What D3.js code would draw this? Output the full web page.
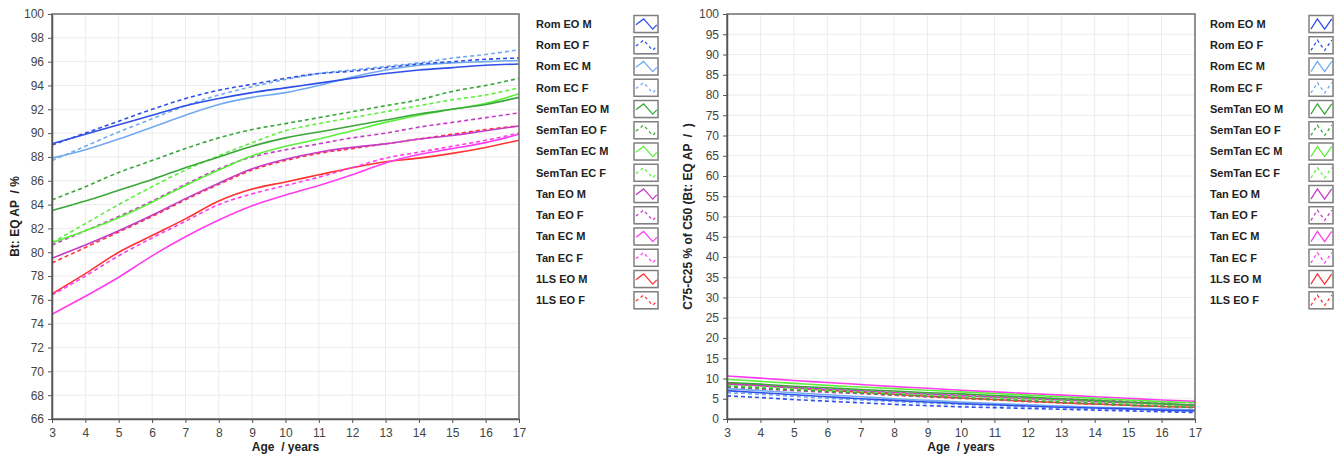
<!DOCTYPE html>
<html><head><meta charset="utf-8">
<script src="https://cdn.jsdelivr.net/npm/d3@7"></script>
<style>
body{margin:0;background:#fff}
svg{display:block}
text{font-family:"Liberation Sans",Arial,sans-serif}
</style>
</head><body>
<svg id="c" width="1343" height="456"></svg>
<script>
// ---------- DATA ----------
const ages = [3,4,5,6,7,8,9,10,11,12,13,14,15,16,17];
const seriesNames = ["Rom EO M","Rom EO F","Rom EC M","Rom EC F","SemTan EO M","SemTan EO F","SemTan EC M","SemTan EC F","Tan EO M","Tan EO F","Tan EC M","Tan EC F","1LS EO M","1LS EO F"];
const leftYTicks = [66,68,70,72,74,76,78,80,82,84,86,88,90,92,94,96,98,100];
const rightYTicks = [0,5,10,15,20,25,30,35,40,45,50,55,60,65,70,75,80,85,90,95,100];
const xTicks = [3,4,5,6,7,8,9,10,11,12,13,14,15,16,17];

// Left chart: Bt: EQ AP / %
const btRomEOM    = [89.1,89.9,90.7,91.5,92.3,92.9,93.4,93.8,94.2,94.6,95.0,95.3,95.5,95.7,95.8];
const btRomEOF    = [89.0,90.0,91.0,92.0,92.9,93.6,94.1,94.6,95.0,95.2,95.5,95.8,96.0,96.2,96.3];
const btRomECM    = [87.9,88.6,89.5,90.5,91.5,92.4,93.0,93.4,94.0,94.7,95.3,95.7,95.9,96.0,96.1];
const btRomECF    = [87.7,88.9,90.1,91.2,92.3,93.2,93.9,94.5,95.0,95.3,95.6,95.9,96.3,96.6,97.0];
const btSemTanEOM = [83.5,84.3,85.2,86.1,87.1,88.0,88.9,89.6,90.1,90.6,91.1,91.6,92.0,92.4,93.0];
const btSemTanEOF = [84.4,85.5,86.7,87.7,88.7,89.6,90.3,90.8,91.3,91.8,92.3,92.8,93.5,94.0,94.6];
const btSemTanECM = [80.8,81.8,82.9,84.2,85.6,86.9,88.1,88.9,89.5,90.2,90.9,91.5,92.0,92.5,93.3];
const btSemTanECF = [80.8,82.4,84.0,85.5,86.9,88.1,89.2,90.2,90.8,91.3,91.8,92.3,92.8,93.2,93.8];
const btTanEOM    = [79.5,80.6,81.8,83.1,84.5,85.8,87.0,87.8,88.4,88.8,89.1,89.5,89.8,90.2,90.6];
const btTanEOF    = [80.6,81.8,83.0,84.3,85.7,87.0,88.0,88.6,89.1,89.6,90.0,90.5,90.9,91.3,91.7];
const btTanECM    = [74.8,76.3,77.9,79.7,81.3,82.7,83.9,84.8,85.6,86.5,87.5,88.2,88.7,89.2,89.9];
const btTanECF    = [76.4,78.0,79.7,81.2,82.6,84.0,84.9,85.6,86.3,87.1,87.9,88.4,88.9,89.4,90.0];
const btLS1EOM    = [76.5,78.2,80.0,81.4,82.8,84.3,85.3,85.9,86.5,87.1,87.6,87.9,88.3,88.8,89.4];
const btLS1EOF    = [79.1,80.4,81.7,83.0,84.4,85.7,86.9,87.7,88.3,88.7,89.1,89.5,89.9,90.3,90.6];

// Right chart: C75-C25 % of C50
const spRomEOM    = [7.0,6.5,6.0,5.5,5.0,4.6,4.2,3.8,3.5,3.2,2.9,2.7,2.5,2.2,2.0];
const spRomEOF    = [5.7,5.3,4.8,4.4,4.0,3.6,3.3,3.0,2.8,2.6,2.4,2.2,2.0,1.8,1.6];
const spRomECM    = [7.5,7.0,6.5,6.0,5.5,5.0,4.6,4.2,3.8,3.5,3.2,2.9,2.7,2.5,2.3];
const spRomECF    = [6.5,6.1,5.6,5.1,4.7,4.3,3.9,3.6,3.3,3.0,2.8,2.6,2.4,2.2,2.0];
const spSemTanEOM = [9.0,8.6,8.1,7.7,7.3,6.9,6.5,6.2,5.8,5.4,5.0,4.6,4.2,3.8,3.4];
const spSemTanEOF = [8.0,7.6,7.2,6.8,6.4,6.0,5.6,5.2,4.8,4.5,4.1,3.8,3.4,3.1,2.8];
const spSemTanECM = [9.8,9.3,8.8,8.3,7.9,7.5,7.1,6.7,6.3,5.9,5.5,5.1,4.7,4.3,4.0];
const spSemTanECF = [8.3,7.9,7.5,7.1,6.7,6.3,5.9,5.6,5.2,4.9,4.5,4.2,3.8,3.5,3.2];
const spTanEOM    = [8.6,8.2,7.7,7.3,6.9,6.5,6.1,5.7,5.4,5.0,4.7,4.3,4.0,3.7,3.4];
const spTanEOF    = [7.8,7.4,7.0,6.6,6.3,5.9,5.5,5.2,4.9,4.5,4.2,3.9,3.6,3.3,3.0];
const spTanECM    = [10.6,10.1,9.5,9.0,8.5,8.0,7.6,7.1,6.7,6.3,5.9,5.5,5.1,4.7,4.4];
const spTanECF    = [8.6,8.2,7.8,7.4,7.0,6.6,6.2,5.9,5.6,5.3,5.0,4.7,4.5,4.2,4.0];
const spLS1EOM    = [8.8,8.3,7.7,7.1,6.6,6.1,5.6,5.2,4.8,4.4,4.0,3.7,3.4,3.1,2.9];
const spLS1EOF    = [8.2,7.7,7.2,6.8,6.3,5.9,5.5,5.1,4.7,4.3,4.0,3.7,3.4,3.1,2.8];

// ---------- STYLE ----------
const colors = ["#2f4fe8","#2f4fe8","#72aaf0","#72aaf0","#3aa73a","#3aa73a","#5cf03c","#5cf03c","#c73ac7","#c73ac7","#ff3cf0","#ff3cf0","#ff3333","#ff3333"];
const dashed = [false,true,false,true,false,true,false,true,false,true,false,true,false,true];

const leftSeries  = [btRomEOM,btRomEOF,btRomECM,btRomECF,btSemTanEOM,btSemTanEOF,btSemTanECM,btSemTanECF,btTanEOM,btTanEOF,btTanECM,btTanECF,btLS1EOM,btLS1EOF];
const rightSeries = [spRomEOM,spRomEOF,spRomECM,spRomECF,spSemTanEOM,spSemTanEOF,spSemTanECM,spSemTanECF,spTanEOM,spTanEOF,spTanECM,spTanECF,spLS1EOM,spLS1EOF];

const svg = d3.select("#c");

function drawChart(opt){
  const g = svg.append("g");
  const x = d3.scaleLinear().domain([3,17]).range([opt.x0, opt.x1]);
  const y = d3.scaleLinear().domain(opt.yDomain).range([opt.y1, opt.y0]);
  // grid
  g.append("g").selectAll("line").data(xTicks).join("line")
    .attr("x1",d=>x(d)).attr("x2",d=>x(d)).attr("y1",opt.y0).attr("y2",opt.y1)
    .attr("stroke","#ececec").attr("stroke-width",1);
  g.append("g").selectAll("line").data(opt.yTicks).join("line")
    .attr("y1",d=>y(d)).attr("y2",d=>y(d)).attr("x1",opt.x0).attr("x2",opt.x1)
    .attr("stroke","#ececec").attr("stroke-width",1);
  // lines
  const line = d3.line().x((d,i)=>x(ages[i])).y(d=>y(d)).curve(d3.curveMonotoneX);
  const order = d3.range(opt.series.length).reverse();
  g.append("g").selectAll("path").data(order).join("path")
    .attr("d",i=>line(opt.series[i]))
    .attr("fill","none")
    .attr("stroke",i=>colors[i])
    .attr("stroke-width",1.6)
    .attr("stroke-dasharray",i=>dashed[i]?"4,3":null);
  // frame
  g.append("rect").attr("x",opt.x0).attr("y",opt.y0)
    .attr("width",opt.x1-opt.x0).attr("height",opt.y1-opt.y0)
    .attr("fill","none").attr("stroke","#707070").attr("stroke-width",1.5);
  // axes
  const ax = g.append("g").attr("transform",`translate(0,${opt.y1})`)
    .call(d3.axisBottom(x).tickValues(xTicks).tickSize(4).tickSizeOuter(0).tickFormat(d3.format("d")));
  const ay = g.append("g").attr("transform",`translate(${opt.x0},0)`)
    .call(d3.axisLeft(y).tickValues(opt.yTicks).tickSize(4).tickSizeOuter(0).tickFormat(d3.format("d")));
  [ax,ay].forEach(a=>{
    a.select(".domain").attr("stroke","#555").attr("stroke-width",1.5);
    a.selectAll(".tick line").attr("stroke","#555");
    a.selectAll(".tick text").attr("fill","#444").style("font-size","12px")
      .style("font-family","'Liberation Sans',Arial,sans-serif");
  });
  ax.selectAll(".tick text").attr("dy","0.9em");
  ay.selectAll(".tick text").attr("dx","-1");
  // axis titles
  g.append("text").attr("x",(opt.x0+opt.x1)/2).attr("y",451)
    .attr("text-anchor","middle").attr("font-weight","bold").attr("font-size",12).attr("fill","#222")
    .attr("xml:space","preserve").text("Age  / years");
  g.append("text").attr("transform",`translate(${opt.yTitleX},${(opt.y0+opt.y1)/2}) rotate(-90)`)
    .attr("text-anchor","middle").attr("font-weight","bold").attr("font-size",12).attr("fill","#222")
    .attr("xml:space","preserve").text(opt.yTitle);
  // legend
  const lg = g.append("g");
  seriesNames.forEach((name,i)=>{
    const cy = 24 + i*21.25;
    lg.append("text").attr("x",opt.legX).attr("y",cy).attr("dy","0.35em")
      .attr("font-size",11).attr("font-weight","bold").attr("fill","#222").text(name);
    const bx = opt.boxX, by = cy-8.5, bw=24, bh=17;
    lg.append("rect").attr("x",bx+1).attr("y",by+1).attr("width",bw).attr("height",bh).attr("fill","#ddd");
    lg.append("rect").attr("x",bx).attr("y",by).attr("width",bw).attr("height",bh)
      .attr("fill","#fff").attr("stroke","#808080").attr("stroke-width",1.5);
    const pts = opt.zig.map(p=>[bx+p[0]*bw, by+p[1]*bh]);
    lg.append("path").attr("d",d3.line()(pts)).attr("fill","none")
      .attr("stroke",colors[i]).attr("stroke-width",1.3)
      .attr("stroke-dasharray",dashed[i]?"3,3":null);
  });
}

drawChart({x0:52,x1:519,y0:14,y1:419,yDomain:[66,100],yTicks:leftYTicks,series:leftSeries,
  yTitle:"Bt: EQ AP  / %",yTitleX:19,legX:536,boxX:634,
  zig:[[0.08,0.55],[0.4,0.2],[0.78,0.8],[0.95,0.55]]});
drawChart({x0:727,x1:1195,y0:14,y1:419,yDomain:[0,100],yTicks:rightYTicks,series:rightSeries,
  yTitle:"C75-C25 % of C50 (Bt: EQ AP  /  )",yTitleX:692,legX:1210,boxX:1309,
  zig:[[0.08,0.8],[0.35,0.2],[0.65,0.8],[0.95,0.2]]});
</script>
</body></html>
